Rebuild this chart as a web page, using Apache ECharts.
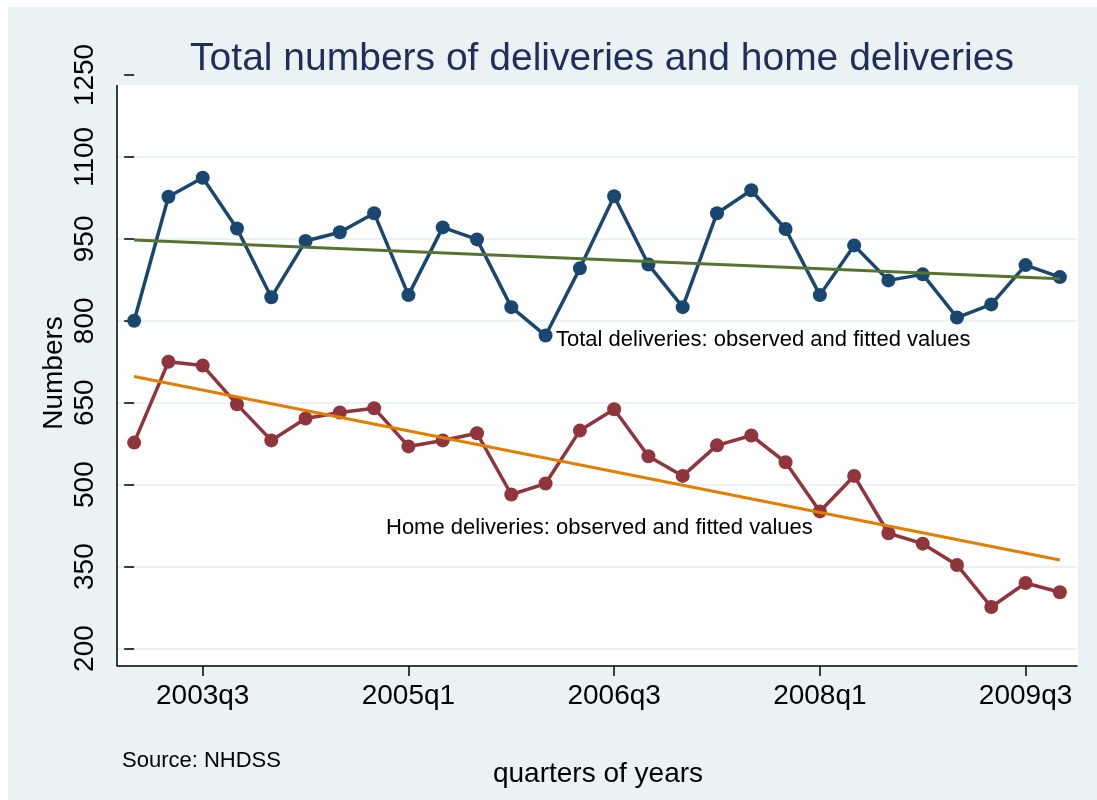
<!DOCTYPE html>
<html>
<head>
<meta charset="utf-8">
<script src="https://cdn.jsdelivr.net/npm/echarts@6/dist/echarts.min.js"></script>
<style>
html, body { margin: 0; padding: 0; background: #fff; }
#chart { width: 1097px; height: 800px; }
</style>
</head>
<body>
<div id="chart"></div>
<script>
var quarters = ['2003q1','2003q2','2003q3','2003q4','2004q1','2004q2','2004q3','2004q4',
	'2005q1','2005q2','2005q3','2005q4','2006q1','2006q2','2006q3','2006q4',
	'2007q1','2007q2','2007q3','2007q4','2008q1','2008q2','2008q3','2008q4',
	'2009q1','2009q2','2009q3','2009q4'];
var totalObserved = [800, 1027, 1062, 969, 843, 946, 962, 997, 847, 971, 949, 825, 773, 896,
	1028, 903, 825, 997, 1039, 968, 847, 938, 874, 885, 806, 830, 902, 880];
var homeObserved = [577, 725, 718, 647, 581, 621, 632, 640, 570, 581, 594, 482, 502, 599,
	638, 552, 516, 572, 590, 541, 451, 516, 411, 392, 353, 276, 320, 303];
// fitted lines: value at first and last quarter
var totalFitted = [948, 877];
var homeFitted = [698, 362];
var yTicks = [200, 350, 500, 650, 800, 950, 1100, 1250];
var xTicks = ['2003q3', '2005q1', '2006q3', '2008q1', '2009q3'];

var font = 'Liberation Sans, Arial, sans-serif';
var last = quarters.length - 1;
var xTickIdx = xTicks.map(function (q) { return quarters.indexOf(q); });

var pairs = function (arr) {
	return arr.map(function (v, i) { return [i, v]; });
};

var observed = function (name, data, color) {
	return {
		name: name,
		type: 'line',
		data: pairs(data),
		symbol: 'circle',
		symbolSize: 14,
		lineStyle: { color: color, width: 3.5 },
		itemStyle: { color: color },
		z: 3
	};
};

var fitted = function (name, ends, color) {
	return {
		name: name,
		type: 'line',
		data: [[0, ends[0]], [last, ends[1]]],
		symbol: 'none',
		lineStyle: { color: color, width: 3 },
		z: 4
	};
};

var text = function (str, x, y, size, opt) {
	opt = opt || {};
	return {
		type: 'text',
		x: x,
		y: y,
		rotation: opt.rotation || 0,
		z: 20,
		style: {
			text: str,
			fill: opt.color || '#000',
			font: size + 'px ' + font,
			textAlign: opt.align || 'center',
			textVerticalAlign: 'middle'
		}
	};
};

var myChart = echarts.init(document.getElementById('chart'));
var option = {
	backgroundColor: '#fff',
	animation: false,
	grid: { left: 117, right: 20, top: 75, bottom: 134 },
	xAxis: {
		type: 'value',
		min: -0.5,
		max: last + 0.5,
		axisLine: { show: true, onZero: false, lineStyle: { color: '#000', width: 1.5 } },
		axisTick: {
			show: true, length: 10, lineStyle: { color: '#000', width: 1.5 },
			customValues: xTickIdx
		},
		axisLabel: {
			fontSize: 28, fontFamily: font, color: '#000', margin: 16,
			customValues: xTickIdx,
			formatter: function (v) { return quarters[v]; }
		},
		splitLine: { show: false }
	},
	yAxis: {
		type: 'value',
		min: 168,
		max: 1250,
		axisLine: { show: false },
		axisTick: {
			show: true, length: 10, lineStyle: { color: '#000', width: 1.5 },
			customValues: yTicks
		},
		axisLabel: {
			fontSize: 28, fontFamily: font, color: '#000', margin: 18, rotate: 90,
			customValues: yTicks,
			formatter: function (v) { return String(v); }
		},
		splitLine: { show: true, lineStyle: { color: '#eaf2f3', width: 2 } }
	},
	graphic: [
		{ type: 'rect', z: -20, shape: { x: 8, y: 7, width: 1089, height: 793 }, style: { fill: '#eaf2f3' } },
		{ type: 'rect', z: -10, shape: { x: 117, y: 85, width: 961, height: 581 }, style: { fill: '#fff' } },
		{ type: 'line', z: 10, shape: { x1: 117, y1: 85, x2: 117, y2: 666 }, style: { stroke: '#000', lineWidth: 1.5 } },
		text('Total numbers of deliveries and home deliveries', 602, 59, 39, { color: '#1f2f5b' }),
		text('Numbers', 54, 373, 28, { rotation: Math.PI / 2 }),
		text('quarters of years', 598, 774, 28),
		text('Source: NHDSS', 122, 761, 22, { align: 'left' }),
		text('Total deliveries: observed and fitted values', 556, 340, 22, { align: 'left' }),
		text('Home deliveries: observed and fitted values', 386, 528, 22, { align: 'left' })
	],
	series: [
		observed('Total deliveries', totalObserved, '#1a476f'),
		observed('Home deliveries', homeObserved, '#90353b'),
		fitted('Total fitted', totalFitted, '#55752f'),
		fitted('Home fitted', homeFitted, '#e37e00')
	]
};
myChart.setOption(option);
</script>
</body>
</html>
